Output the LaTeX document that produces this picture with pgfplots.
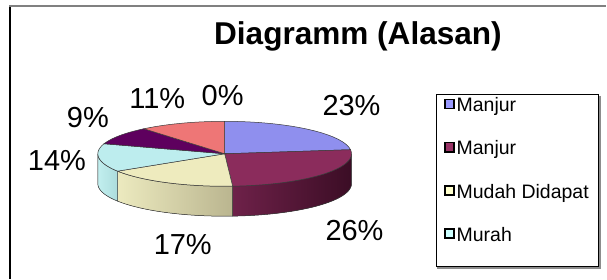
\documentclass[border=0pt]{standalone}
\usepackage{pgfplots}
\pgfplotsset{compat=1.18}
\usepgfplotslibrary{fillbetween}
\usepackage{fontspec}
\setmainfont{Liberation Sans}
\definecolor{cBlue}{HTML}{8F8FEE}
\definecolor{cMaroon}{HTML}{8B2C5C}
\definecolor{cYellow}{HTML}{EEEBBE}
\definecolor{cCyan}{HTML}{BDEDEE}
\definecolor{cPurple}{HTML}{5E005E}
\definecolor{cSalmon}{HTML}{EE7676}
\definecolor{sMaroonL}{HTML}{6E2149}
\definecolor{sMaroonR}{HTML}{3B0D25}
\definecolor{sYellowL}{HTML}{ECEABF}
\definecolor{sYellowR}{HTML}{BAB58F}
\definecolor{sCyanL}{HTML}{C2EFEF}
\definecolor{sCyanR}{HTML}{ACDDDD}
\definecolor{lgBlue}{HTML}{9999FF}
\definecolor{lgMaroon}{HTML}{993366}
\definecolor{lgYellow}{HTML}{FFFFCC}
\definecolor{lgCyan}{HTML}{CCFFFF}
\definecolor{cLine}{HTML}{3A3A3A}
\begin{document}
\begin{tikzpicture}
% shares in percent (clockwise from the top)
\def\vA{23}\def\vB{26}\def\vC{17}\def\vD{14}\def\vE{9}\def\vF{11}\def\vG{0}
\pgfmathsetmacro\aA{90}
\pgfmathsetmacro\aB{\aA-3.6*\vA}
\pgfmathsetmacro\aC{\aB-3.6*\vB}
\pgfmathsetmacro\aD{\aC-3.6*\vC}
\pgfmathsetmacro\aE{\aD-3.6*\vD}
\pgfmathsetmacro\aF{\aE-3.6*\vE}
\pgfmathsetmacro\aG{\aF-3.6*\vF}
\def\cx{225}\def\cy{154}\def\rx{127}\def\ry{32.5}\def\dd{30}
\begin{axis}[
  x=1bp, y=1bp, xmin=0, xmax=607, ymin=0, ymax=279, y dir=reverse,
  hide axis, clip=false, scale only axis,
  legend image code/.code={\draw[#1, draw=black, line width=1.7bp] (0.85bp,-1.6bp) rectangle (10.1bp,7.6bp);},
  legend cell align=left,
  legend style={at={(axis cs:444.6,98.1)}, anchor=north west, draw=none, fill=none,
    inner sep=0pt, row sep=25.7bp,
    font=\fontsize{19.5bp}{21bp}\selectfont,
    nodes={inner sep=0pt, text height=13.6bp, text depth=4bp},
    /tikz/every odd column/.style={column sep=1.6bp}},
]
\addlegendimage{fill=lgBlue}\addlegendentry{Manjur}
\addlegendimage{fill=lgMaroon}\addlegendentry{Manjur}
\addlegendimage{fill=lgYellow}\addlegendentry{Mudah Didapat}
\addlegendimage{fill=lgCyan}\addlegendentry{Murah}

% frame
\path (axis cs:0,0) rectangle (axis cs:607,279);
\draw[black, line width=1.3bp] (axis cs:10,279) -- (axis cs:10,6);
\draw[black!50, line width=1.8bp] (axis cs:9.4,6) -- (axis cs:607,6);

% sides (front)
\addplot[forget plot, name path=T1, draw=none, domain=\aC:0, samples=60] ({\cx+\rx*cos(x)},{\cy-\ry*sin(x)});
\addplot[forget plot, name path=B1, draw=none, domain=\aC:0, samples=60] ({\cx+\rx*cos(x)},{\cy+\dd-\ry*sin(x)});
\addplot[forget plot, left color=sMaroonL, right color=sMaroonR, draw=cLine, line width=0.5bp] fill between[of=T1 and B1];
\addplot[forget plot, name path=T2, draw=none, domain=\aD:\aC, samples=60] ({\cx+\rx*cos(x)},{\cy-\ry*sin(x)});
\addplot[forget plot, name path=B2, draw=none, domain=\aD:\aC, samples=60] ({\cx+\rx*cos(x)},{\cy+\dd-\ry*sin(x)});
\addplot[forget plot, left color=sYellowL, right color=sYellowR, draw=cLine, line width=0.5bp] fill between[of=T2 and B2];
\addplot[forget plot, name path=T3, draw=none, domain=-180:\aD, samples=40] ({\cx+\rx*cos(x)},{\cy-\ry*sin(x)});
\addplot[forget plot, name path=B3, draw=none, domain=-180:\aD, samples=40] ({\cx+\rx*cos(x)},{\cy+\dd-\ry*sin(x)});
\addplot[forget plot, left color=sCyanL, right color=sCyanR, draw=cLine, line width=0.5bp] fill between[of=T3 and B3];

% top face
\addplot[forget plot, fill=cBlue, draw=cLine, line width=0.5bp, domain=\aB:\aA, samples=60] ({\cx+\rx*cos(x)},{\cy-\ry*sin(x)}) -- (axis cs:\cx,\cy) -- cycle;
\addplot[forget plot, fill=cMaroon, draw=cLine, line width=0.5bp, domain=\aC:\aB, samples=60] ({\cx+\rx*cos(x)},{\cy-\ry*sin(x)}) -- (axis cs:\cx,\cy) -- cycle;
\addplot[forget plot, fill=cYellow, draw=cLine, line width=0.5bp, domain=\aD:\aC, samples=60] ({\cx+\rx*cos(x)},{\cy-\ry*sin(x)}) -- (axis cs:\cx,\cy) -- cycle;
\addplot[forget plot, fill=cCyan, draw=cLine, line width=0.5bp, domain=\aE:\aD, samples=60] ({\cx+\rx*cos(x)},{\cy-\ry*sin(x)}) -- (axis cs:\cx,\cy) -- cycle;
\addplot[forget plot, fill=cPurple, draw=cLine, line width=0.5bp, domain=\aF:\aE, samples=60] ({\cx+\rx*cos(x)},{\cy-\ry*sin(x)}) -- (axis cs:\cx,\cy) -- cycle;
\addplot[forget plot, fill=cSalmon, draw=cLine, line width=0.5bp, domain=\aG:\aF, samples=60] ({\cx+\rx*cos(x)},{\cy-\ry*sin(x)}) -- (axis cs:\cx,\cy) -- cycle;

% title
\node[anchor=base, font=\fontsize{31.6bp}{33bp}\selectfont\bfseries] at (axis cs:358.5,45) {Diagramm (Alasan)};

% percentage labels
\begin{scope}[every node/.style={anchor=base, inner sep=0pt, font=\fontsize{29bp}{30bp}\selectfont}]
\node at (axis cs:352,115.7) {\vA\%};
\node at (axis cs:355,240.5) {\vB\%};
\node at (axis cs:183,255) {\vC\%};
\node at (axis cs:57,170.3) {\vD\%};
\node at (axis cs:88,127.8) {\vE\%};
\node at (axis cs:157.5,108.2) {\vF\%};
\node at (axis cs:223,105.2) {\vG\%};
\end{scope}

% legend frame
\draw[black!45, line width=1.5bp] (axis cs:601,96) -- (axis cs:601,268.6) -- (axis cs:438,268.6);
\draw[black, line width=0.7bp] (axis cs:436.5,94) rectangle (axis cs:599.5,267);
\end{axis}
\end{tikzpicture}
\end{document}
